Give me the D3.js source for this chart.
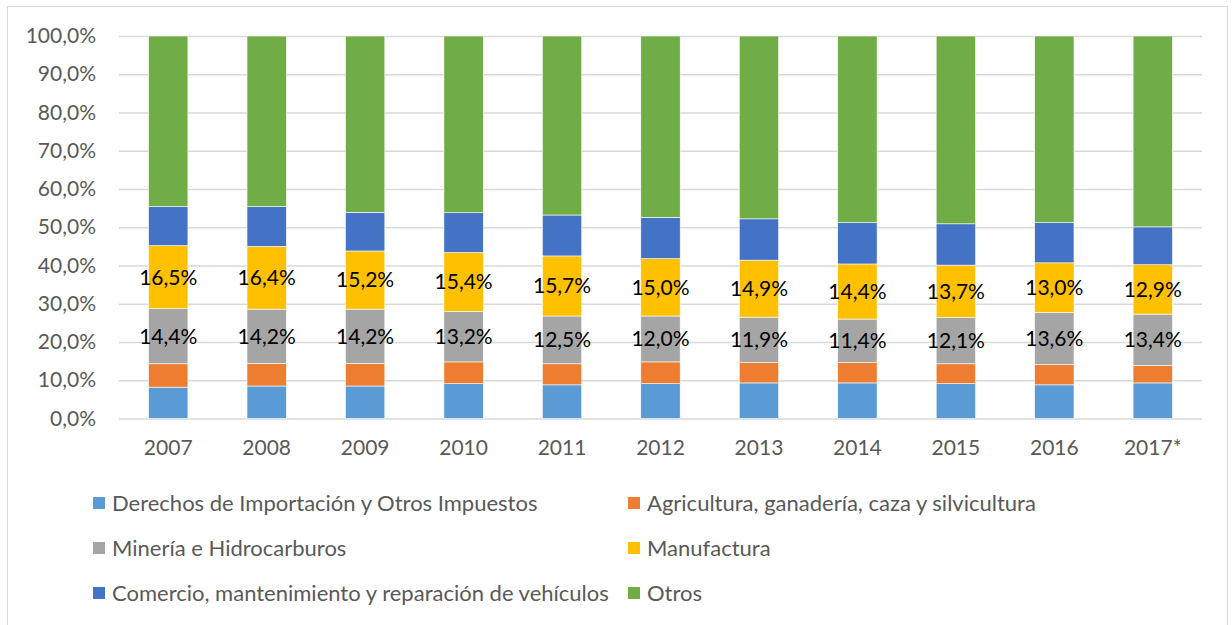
<html>
<head>
<meta charset="utf-8">
<title>PIB por actividad</title>
<script src="https://d3js.org/d3.v7.min.js"></script>
<style>
  body { margin: 0; background: #fff; }
  text { font-family: Lato, "Noto Sans", sans-serif; }
</style>
</head>
<body>
<div id="chart"></div>
<script>
const years = ["2007", "2008", "2009", "2010", "2011", "2012", "2013", "2014", "2015", "2016", "2017*"];
const derechos    = [8.2, 8.5, 8.5, 9.1, 8.8, 9.1, 9.3, 9.3, 9.1, 8.8, 9.3];
const agricultura = [6.1, 5.9, 5.9, 5.7, 5.5, 5.7, 5.3, 5.3, 5.2, 5.3, 4.6];
const mineria     = [14.4, 14.2, 14.2, 13.2, 12.5, 12.0, 11.9, 11.4, 12.1, 13.6, 13.4];
const manufactura = [16.5, 16.4, 15.2, 15.4, 15.7, 15.0, 14.9, 14.4, 13.7, 13.0, 12.9];
const comercio    = [10.2, 10.4, 10.1, 10.4, 10.7, 10.8, 10.8, 10.8, 10.8, 10.5, 9.9];
const otros       = [44.6, 44.6, 46.1, 46.2, 46.8, 47.4, 47.8, 48.8, 49.1, 48.8, 49.9];

const seriesNames = [
  "Derechos de Importación y Otros Impuestos",
  "Agricultura, ganadería, caza y silvicultura",
  "Minería e Hidrocarburos",
  "Manufactura",
  "Comercio, mantenimiento y reparación de vehículos",
  "Otros"
];
const seriesValues = [derechos, agricultura, mineria, manufactura, comercio, otros];
const colors = ["#5B9BD5", "#ED7D31", "#A5A5A5", "#FFC000", "#4472C4", "#70AD47"];
// series that get data labels
const labelled = ["Minería e Hidrocarburos", "Manufactura"];

const W = 1232, H = 625;
const margin = { top: 36, left: 119, right: 30, bottom: 206.5 };
const width = W - margin.left - margin.right;
const height = H - margin.top - margin.bottom;

const rows = years.map((y, i) => {
  const r = { year: y };
  seriesNames.forEach((s, k) => { r[s] = seriesValues[k][i]; });
  return r;
});

const stack = d3.stack().keys(seriesNames);
const layers = stack(rows);

const x = d3.scaleBand().domain(years).range([0, width]).paddingInner(0.6).paddingOuter(0.3);
const y = d3.scaleLinear().domain([0, 100]).range([height, 0]);
const color = d3.scaleOrdinal().domain(seriesNames).range(colors);

const loc = d3.formatLocale({ decimal: ",", thousands: ".", grouping: [3], currency: ["", ""] });
const fmtTick = d => loc.format(".1f")(d) + "%";

const svg = d3.select("#chart").append("svg")
  .attr("width", W).attr("height", H);

// outer frame
svg.append("rect")
  .attr("x", 7.5).attr("y", 6.5)
  .attr("width", 1220).attr("height", 640)
  .attr("fill", "none").attr("stroke", "#d9d9d9");

const g = svg.append("g").attr("transform", `translate(${margin.left},${margin.top})`);

// gridlines
const yAxis = d3.axisLeft(y).tickValues(d3.range(0, 101, 10)).tickSize(-width).tickFormat(fmtTick).tickPadding(23);
const ya = g.append("g").call(yAxis);
ya.select(".domain").remove();
ya.selectAll(".tick line").attr("stroke", "#d9d9d9").attr("stroke-width", 1.5);
ya.selectAll(".tick text").attr("fill", "#595959").style("font-size", "21px");

// bars
const layer = g.selectAll(".layer").data(layers).enter().append("g")
  .attr("class", "layer")
  .attr("fill", d => color(d.key));

layer.selectAll("rect").data(d => d).enter().append("rect")
  .attr("x", d => x(d.data.year))
  .attr("y", d => y(d[1]))
  .attr("width", x.bandwidth())
  .attr("height", d => y(d[0]) - y(d[1]))
  .attr("stroke", "#ffffff")
  .attr("stroke-width", 0.6);

// data labels
layers.filter(l => labelled.includes(l.key)).forEach(l => {
  g.selectAll(null).data(l).enter().append("text")
    .attr("x", d => x(d.data.year) + x.bandwidth() / 2)
    .attr("y", d => y((d[0] + d[1]) / 2))
    .attr("dy", "0.35em")
    .attr("text-anchor", "middle")
    .attr("fill", "#000")
    .style("font-size", "21px")
    .text(d => loc.format(".1f")(d.data[l.key]) + "%");
});

// x axis labels
const xAxis = d3.axisBottom(x).tickSize(0).tickPadding(22);
const xa = g.append("g").attr("transform", `translate(0,${height})`).call(xAxis);
xa.select(".domain").remove();
xa.selectAll(".tick text").attr("fill", "#595959").style("font-size", "21px");

// legend
const legendPos = [
  [93, 503], [628, 503],
  [93, 548], [628, 548],
  [93, 593], [628, 593]
];
const legend = svg.selectAll(".legend").data(seriesNames).enter().append("g")
  .attr("class", "legend")
  .attr("transform", (d, i) => `translate(${legendPos[i][0]},${legendPos[i][1]})`);
legend.append("rect")
  .attr("x", 0).attr("y", -6).attr("width", 12).attr("height", 12)
  .attr("fill", color);
legend.append("text")
  .attr("x", 19).attr("dy", "0.35em")
  .attr("fill", "#595959")
  .style("font-size", "22px")
  .text(d => d);
</script>
</body>
</html>
